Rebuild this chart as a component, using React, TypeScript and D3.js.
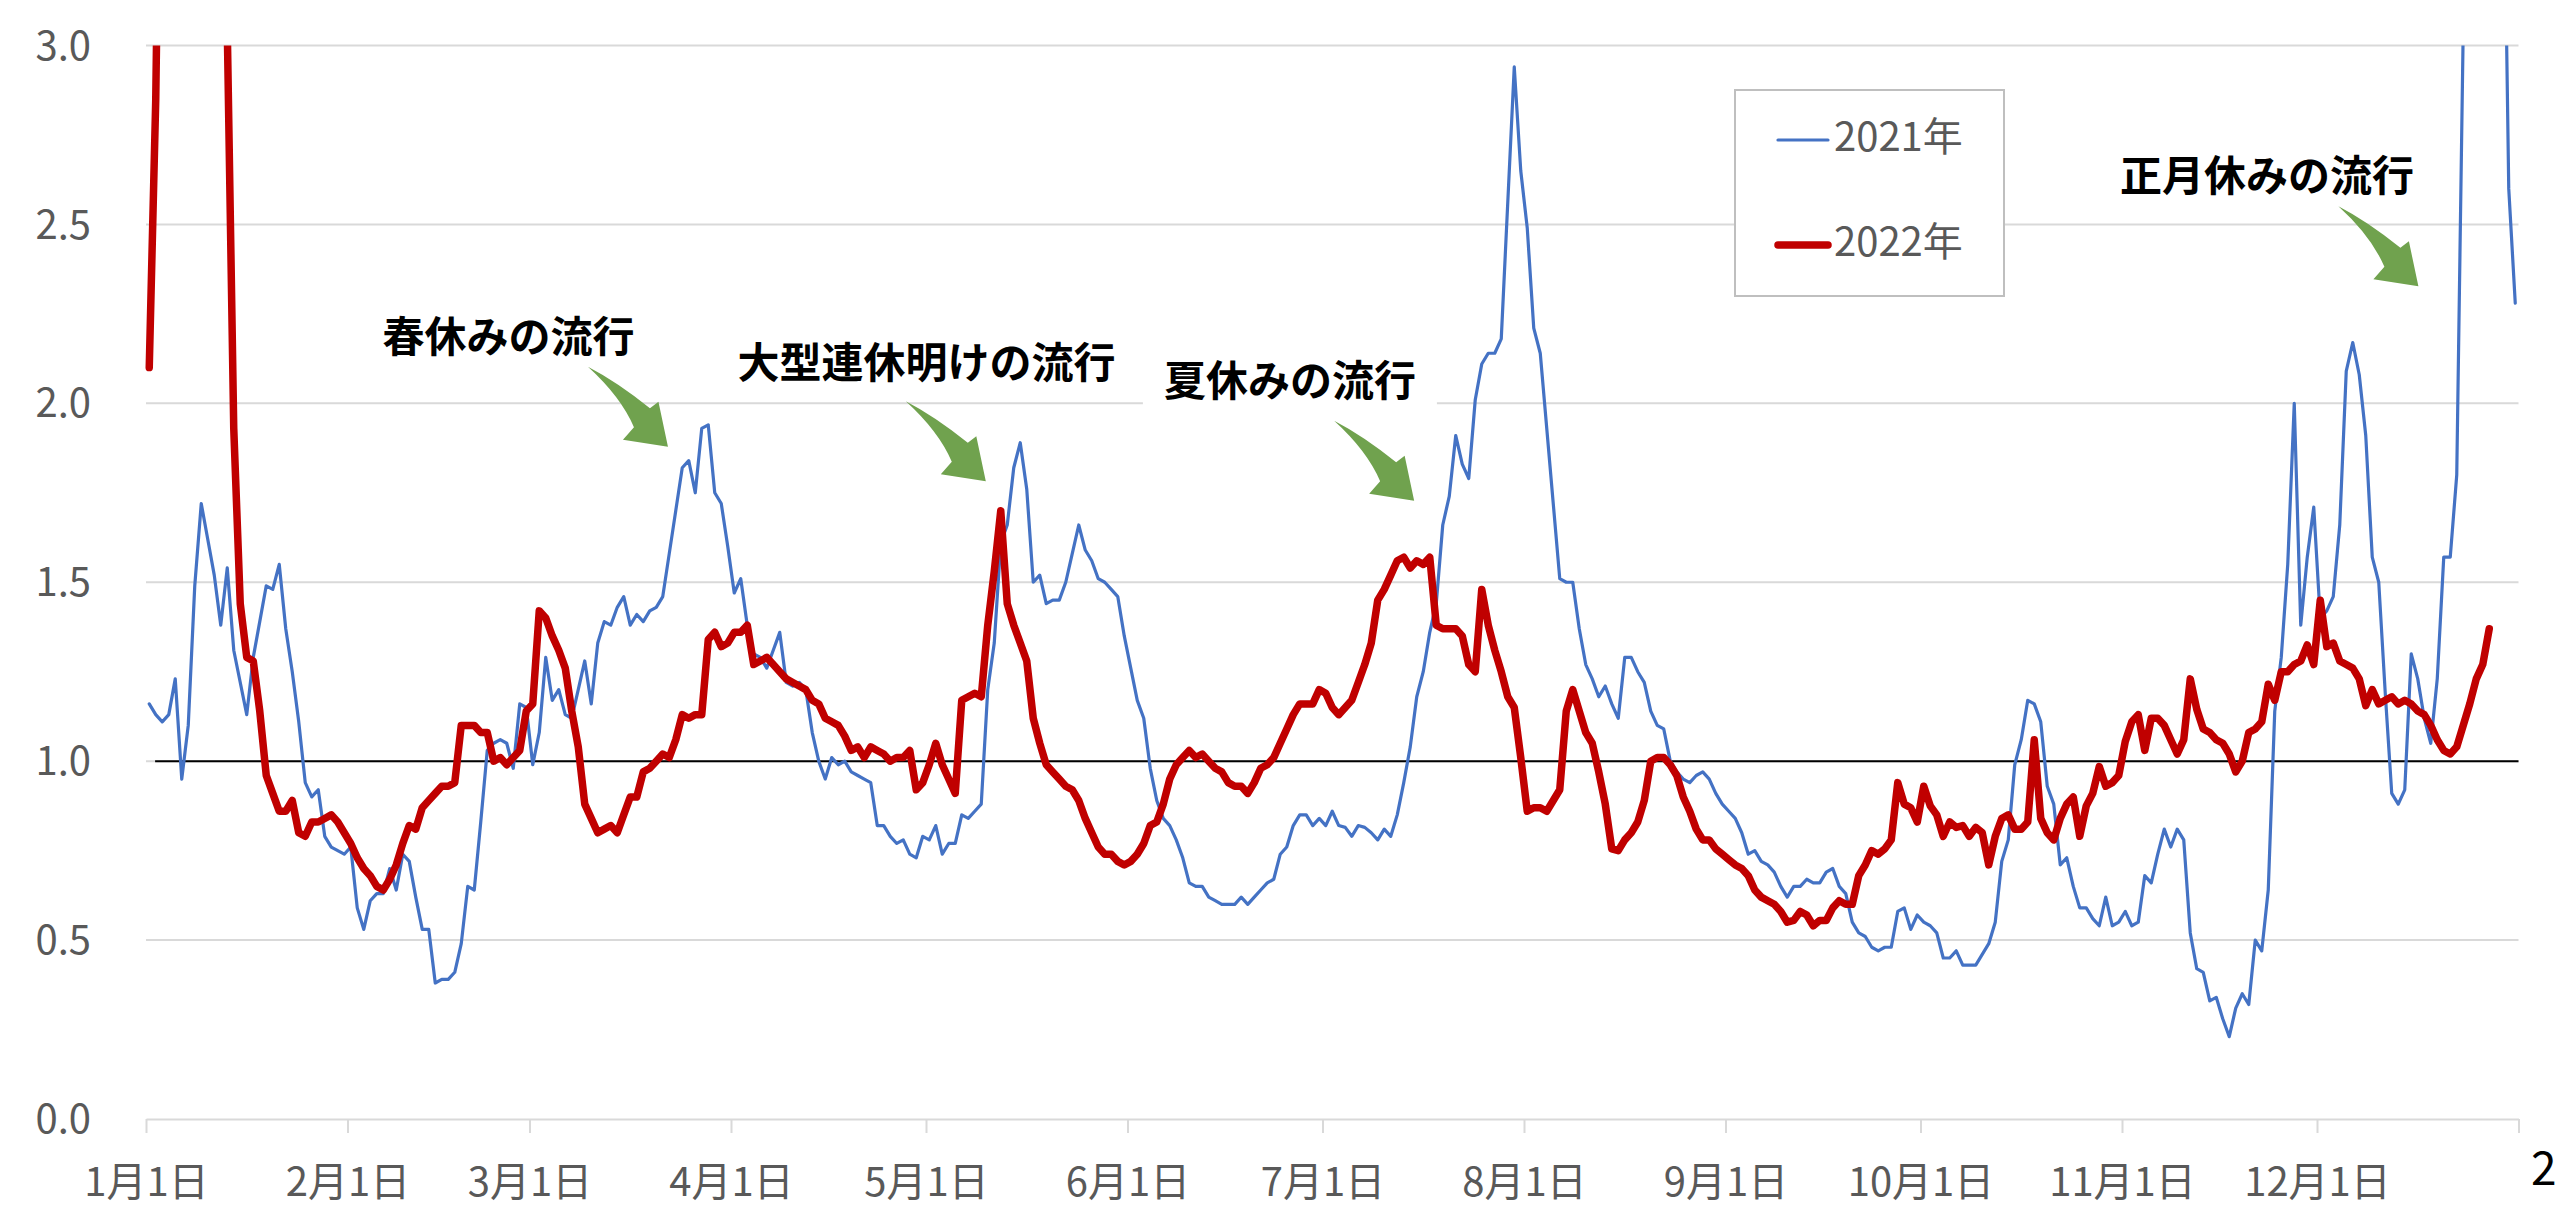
import * as React from 'react';
import { useEffect, useRef } from 'react';
import * as d3 from 'd3';

const WIDTH = 2560;
const HEIGHT = 1211;

const monthLabels = ['1月1日', '2月1日', '3月1日', '4月1日', '5月1日', '6月1日', '7月1日', '8月1日', '9月1日', '10月1日', '11月1日', '12月1日'];
const monthStarts = [0, 31, 59, 90, 120, 151, 181, 212, 243, 273, 304, 334];
const yearLength = 365;
const yTicks = [0, 0.5, 1.0, 1.5, 2.0, 2.5, 3.0];
const seriesNames = ['2021年', '2022年'];

// daily values, 1 Jan → 31 Dec 2021
const values2021 = [
  1.16, 1.13, 1.11, 1.13, 1.23, 0.95, 1.10, 1.49, 1.72, 1.62,
  1.52, 1.38, 1.54, 1.31, 1.22, 1.13, 1.29, 1.39, 1.49, 1.48,
  1.55, 1.37, 1.25, 1.11, 0.94, 0.90, 0.92, 0.79, 0.76, 0.75,
  0.74, 0.76, 0.59, 0.53, 0.61, 0.63, 0.63, 0.70, 0.64, 0.74,
  0.72, 0.62, 0.53, 0.53, 0.38, 0.39, 0.39,
  0.41, 0.49, 0.65, 0.64, 0.83, 1.03, 1.05, 1.06, 1.05, 0.98,
  1.16, 1.15, 0.99, 1.08, 1.29, 1.17, 1.20, 1.13, 1.12, 1.20,
  1.28, 1.16, 1.33, 1.39, 1.38, 1.43, 1.46, 1.38, 1.41, 1.39,
  1.42, 1.43, 1.46, 1.58, 1.70, 1.82, 1.84, 1.75, 1.93, 1.94,
  1.75, 1.72, 1.60, 1.47, 1.51,
  1.38, 1.30, 1.29, 1.26, 1.31, 1.36, 1.22, 1.21, 1.22,
  1.20, 1.08, 1.00, 0.95, 1.01, 0.99, 1.00, 0.97, 0.96, 0.95,
  0.94, 0.82, 0.82, 0.79, 0.77, 0.78, 0.74, 0.73, 0.79, 0.78,
  0.82, 0.74, 0.77, 0.77, 0.85, 0.84, 0.86, 0.88, 1.20, 1.33,
  1.61, 1.66, 1.82, 1.89, 1.76, 1.50, 1.52,
  1.44, 1.45, 1.45, 1.50, 1.58, 1.66, 1.59, 1.56, 1.51, 1.50,
  1.48, 1.46, 1.35, 1.26, 1.17, 1.12, 0.98, 0.89, 0.84, 0.82,
  0.78, 0.73, 0.66, 0.65, 0.65, 0.62, 0.61, 0.60, 0.60, 0.60,
  0.62, 0.60, 0.62, 0.64, 0.66, 0.67, 0.74, 0.76, 0.82, 0.85,
  0.85, 0.82, 0.84, 0.82, 0.86, 0.82,
  0.815, 0.79, 0.82, 0.815, 0.80, 0.78, 0.81, 0.79, 0.85, 0.94,
  1.04, 1.18, 1.25, 1.36, 1.44, 1.66, 1.74, 1.91, 1.83, 1.79,
  2.01, 2.11, 2.14, 2.14, 2.18, 2.56, 2.94, 2.65, 2.49, 2.21,
  2.14, 1.93, 1.72, 1.51, 1.50, 1.50, 1.37, 1.27, 1.23, 1.18,
  1.21, 1.16, 1.12, 1.29, 1.29, 1.25,
  1.22, 1.14, 1.10, 1.09, 1.00, 0.97, 0.95, 0.94, 0.96, 0.97,
  0.95, 0.91, 0.88, 0.86, 0.84, 0.80, 0.74, 0.75, 0.72, 0.71,
  0.69, 0.65, 0.62, 0.65, 0.65, 0.67, 0.66, 0.66, 0.69, 0.70,
  0.65, 0.63, 0.55, 0.52, 0.51, 0.48, 0.47, 0.48, 0.48, 0.58,
  0.59, 0.53, 0.57, 0.55, 0.54, 0.52, 0.45,
  0.45, 0.47, 0.43, 0.43, 0.43, 0.46, 0.49, 0.55, 0.72, 0.78,
  0.99, 1.06, 1.17, 1.16, 1.11, 0.93, 0.88, 0.71, 0.73, 0.65,
  0.59, 0.59, 0.56, 0.54, 0.62, 0.54, 0.55, 0.58, 0.54, 0.55,
  0.68, 0.66, 0.74, 0.81, 0.76, 0.81, 0.78, 0.52, 0.42, 0.41,
  0.33, 0.34, 0.28, 0.23, 0.31, 0.35,
  0.32, 0.50, 0.47, 0.64, 1.14, 1.29, 1.55, 2.00, 1.38, 1.57,
  1.71, 1.40, 1.42, 1.46, 1.66, 2.09, 2.17, 2.08, 1.91, 1.57,
  1.50, 1.19, 0.91, 0.88, 0.92, 1.30, 1.23, 1.12, 1.05, 1.23,
  1.57, 1.57, 1.80, 3.05, 3.5, 4.0, 4.3, 4.4, 4.2, 3.85,
  2.60, 2.28,
];

// daily values, 1 Jan → 27 Dec 2022
const values2022 = [
  2.10, 2.85, 4.2, 5.0, 5.5, 5.8, 5.6, 5.3, 5.0, 4.6,
  4.3, 4.0, 3.05, 1.93, 1.44, 1.29, 1.28, 1.14, 0.96, 0.91,
  0.86, 0.86, 0.89, 0.80, 0.79, 0.83, 0.83, 0.84, 0.85, 0.83,
  0.80, 0.77, 0.73, 0.70, 0.68, 0.65, 0.64, 0.67, 0.71, 0.77,
  0.82, 0.81, 0.87, 0.89, 0.91, 0.93, 0.93,
  0.94, 1.10, 1.10, 1.10, 1.08, 1.08, 1.00, 1.01, 0.99, 1.01,
  1.03, 1.14, 1.16, 1.42, 1.40, 1.35, 1.31, 1.26, 1.14, 1.04,
  0.88, 0.84, 0.80, 0.81, 0.82, 0.80, 0.85, 0.90, 0.90, 0.97,
  0.98, 1.00, 1.02, 1.01, 1.06, 1.13, 1.12, 1.13, 1.13, 1.34,
  1.36, 1.32, 1.33, 1.36, 1.36,
  1.38, 1.27, 1.28, 1.29, 1.27, 1.25, 1.23, 1.22, 1.21,
  1.20, 1.17, 1.16, 1.12, 1.11, 1.10, 1.07, 1.03, 1.04, 1.01,
  1.04, 1.03, 1.02, 1.00, 1.01, 1.01, 1.03, 0.92, 0.94, 0.99,
  1.05, 0.99, 0.95, 0.91, 1.17, 1.18, 1.19, 1.18, 1.38, 1.53,
  1.70, 1.44, 1.38, 1.33, 1.28, 1.12, 1.05,
  0.99, 0.97, 0.95, 0.93, 0.92, 0.89, 0.84, 0.80, 0.76, 0.74,
  0.74, 0.72, 0.71, 0.72, 0.74, 0.77, 0.82, 0.83, 0.88, 0.95,
  0.99, 1.01, 1.03, 1.01, 1.02, 1.00, 0.98, 0.97, 0.94, 0.93,
  0.93, 0.91, 0.94, 0.98, 0.99, 1.01, 1.05, 1.09, 1.13, 1.16,
  1.16, 1.16, 1.20, 1.19, 1.15, 1.13,
  1.15, 1.17, 1.22, 1.27, 1.33, 1.45, 1.48, 1.52, 1.56, 1.57,
  1.54, 1.56, 1.55, 1.57, 1.38, 1.37, 1.37, 1.37, 1.35, 1.27,
  1.25, 1.48, 1.38, 1.31, 1.25, 1.18, 1.15, 1.01, 0.86, 0.87,
  0.87, 0.86, 0.89, 0.92, 1.14, 1.20, 1.14, 1.08, 1.05, 0.97,
  0.88, 0.755, 0.75, 0.78, 0.80, 0.83,
  0.89, 1.00, 1.01, 1.01, 0.99, 0.96, 0.90, 0.86, 0.81, 0.78,
  0.78, 0.755, 0.74, 0.725, 0.71, 0.70, 0.68, 0.64, 0.62, 0.61,
  0.60, 0.58, 0.55, 0.555, 0.58, 0.57, 0.54, 0.555, 0.555, 0.59,
  0.61, 0.60, 0.60, 0.68, 0.71, 0.75, 0.74, 0.755, 0.78, 0.94,
  0.88, 0.87, 0.83, 0.93, 0.875, 0.85, 0.79,
  0.83, 0.815, 0.82, 0.79, 0.815, 0.80, 0.71, 0.79, 0.84, 0.85,
  0.81, 0.81, 0.83, 1.06, 0.84, 0.80, 0.78, 0.84, 0.88, 0.90,
  0.79, 0.875, 0.91, 0.985, 0.93, 0.94, 0.96, 1.055, 1.11, 1.13,
  1.03, 1.12, 1.12, 1.10, 1.06, 1.02, 1.06, 1.23, 1.145, 1.09,
  1.08, 1.06, 1.05, 1.02, 0.97, 1.00,
  1.08, 1.09, 1.11, 1.215, 1.17, 1.25, 1.25, 1.27, 1.28, 1.325,
  1.27, 1.45, 1.32, 1.33, 1.28, 1.27, 1.26, 1.23, 1.155, 1.20,
  1.16, 1.17, 1.18, 1.16, 1.17, 1.16, 1.14, 1.13, 1.10, 1.06,
  1.03, 1.02, 1.04, 1.10, 1.16, 1.23, 1.27, 1.37,
];

const noteTexts = ['春休みの流行', '大型連休明けの流行', '夏休みの流行', '正月休みの流行'];

// [day, value] anchors: text start (left, middle) and arrow tip
const NOTE_TEXT_AT = [[36.4, 2.186], [91.0, 2.113], [156.6, 2.063], [303.7, 2.636]];
const NOTE_ARROW_AT = [[80.3, 1.879], [129.2, 1.782], [195.1, 1.728], [349.6, 2.327]];

const FONT = '"Noto Sans CJK JP", "Noto Sans", sans-serif';
const GRID = '#d9d9d9';
const LABEL = '#595959';
const BLUE = '#4472c4';
const RED = '#c00000';
const GREEN = '#70a24e';

// arrow shape, relative to its tip
const ARROW_PATH =
  'M-80,-80 Q-51,-65 -18,-38.5 L-9.5,-45 L0,0 L-45,-7 L-34,-19.5 Q-47,-50 -80,-80 Z';

export default function App() {
  const ref = useRef<SVGSVGElement>(null);

  useEffect(() => {
    const svg = d3.select(ref.current);
    svg.selectAll('*').remove();

    const x = d3.scaleLinear().domain([0, yearLength]).range([146, 2518.5]);
    const y = d3.scaleLinear().domain([0, 3]).range([1119, 45.5]);

    // horizontal grid
    svg
      .append('g')
      .selectAll('line')
      .data(yTicks.filter(d => d > 0))
      .join('line')
      .attr('x1', x(0))
      .attr('x2', x(yearLength))
      .attr('y1', d => y(d))
      .attr('y2', d => y(d))
      .attr('stroke', GRID)
      .attr('stroke-width', 2);

    // y axis labels
    const yAxis = svg
      .append('g')
      .attr('transform', `translate(${x(0)},0)`)
      .call(d3.axisLeft(y).tickValues(yTicks).tickSize(0).tickPadding(55).tickFormat(d3.format('.1f')));
    yAxis.select('.domain').remove();
    yAxis
      .selectAll('text')
      .attr('font-family', FONT)
      .attr('font-size', 40)
      .attr('fill', LABEL)
      .attr('dy', '0.34em');

    // x axis
    const xAxis = svg
      .append('g')
      .attr('transform', `translate(0,${y(0)})`)
      .call(
        d3
          .axisBottom(x)
          .tickValues([...monthStarts, yearLength])
          .tickSize(14)
          .tickSizeOuter(0)
          .tickFormat((_d, i) => monthLabels[i] ?? ''),
      );
    xAxis.select('.domain').attr('stroke', GRID).attr('stroke-width', 2);
    xAxis.selectAll('.tick line').attr('stroke', GRID).attr('stroke-width', 2);
    xAxis
      .selectAll('.tick text')
      .attr('font-family', FONT)
      .attr('font-size', 40)
      .attr('fill', LABEL)
      .attr('y', 63)
      .attr('dy', '0.34em');

    // clipped stray label at the right edge
    svg
      .append('text')
      .attr('x', 2531)
      .attr('y', 1168)
      .attr('dy', '0.36em')
      .attr('font-family', FONT)
      .attr('font-size', 46)
      .attr('fill', '#000')
      .text('2');

    // plot clip
    svg
      .append('defs')
      .append('clipPath')
      .attr('id', 'plotClip')
      .append('rect')
      .attr('x', x(0) - 10)
      .attr('y', y(3))
      .attr('width', x(yearLength) - x(0) + 20)
      .attr('height', y(0) - y(3));

    // reference line at 1.0
    svg
      .append('line')
      .attr('x1', x(1.4))
      .attr('x2', x(yearLength))
      .attr('y1', y(1))
      .attr('y2', y(1))
      .attr('stroke', '#000')
      .attr('stroke-width', 2);

    const line = d3
      .line<number>()
      .x((_d, i) => x(i + 0.5))
      .y(d => y(d));

    const plot = svg.append('g').attr('clip-path', 'url(#plotClip)');
    plot
      .append('path')
      .attr('d', line(values2021))
      .attr('fill', 'none')
      .attr('stroke', BLUE)
      .attr('stroke-width', 3.2)
      .attr('stroke-linejoin', 'round')
      .attr('stroke-linecap', 'round');
    plot
      .append('path')
      .attr('d', line(values2022))
      .attr('fill', 'none')
      .attr('stroke', RED)
      .attr('stroke-width', 7.5)
      .attr('stroke-linejoin', 'round')
      .attr('stroke-linecap', 'round');

    // legend
    const legend = svg.append('g');
    legend
      .append('rect')
      .attr('x', 1735)
      .attr('y', 90)
      .attr('width', 269)
      .attr('height', 206)
      .attr('fill', '#fff')
      .attr('stroke', '#bfbfbf')
      .attr('stroke-width', 2);
    const legendRows = [
      { name: seriesNames[0], color: BLUE, width: 3.2, cy: 140 },
      { name: seriesNames[1], color: RED, width: 7.5, cy: 245 },
    ];
    legendRows.forEach(r => {
      legend
        .append('line')
        .attr('x1', 1778)
        .attr('x2', 1828)
        .attr('y1', r.cy)
        .attr('y2', r.cy)
        .attr('stroke', r.color)
        .attr('stroke-width', r.width)
        .attr('stroke-linecap', 'round');
      legend
        .append('text')
        .attr('x', 1834)
        .attr('y', r.cy - 3)
        .attr('dy', '0.34em')
        .attr('font-family', FONT)
        .attr('font-size', 40)
        .attr('fill', LABEL)
        .text(r.name);
    });

    // annotations
    const notes = svg.append('g');
    noteTexts.forEach((t, i) => {
      const [td, tv] = NOTE_TEXT_AT[i];
      const [ad, av] = NOTE_ARROW_AT[i];
      if (i === 2) {
        notes
          .append('rect')
          .attr('x', x(td) - 21)
          .attr('y', y(tv) - 30)
          .attr('width', 294)
          .attr('height', 58)
          .attr('fill', '#fff');
      }
      notes
        .append('text')
        .attr('x', x(td))
        .attr('y', y(tv))
        .attr('dy', '0.36em')
        .attr('font-family', FONT)
        .attr('font-weight', 700)
        .attr('font-size', 42)
        .attr('fill', '#000')
        .text(t);
      notes
        .append('path')
        .attr('transform', `translate(${x(ad)},${y(av)})`)
        .attr('d', ARROW_PATH)
        .attr('fill', GREEN);
    });
  }, []);

  return (
    <svg
      ref={ref}
      width={WIDTH}
      height={HEIGHT}
      style={{ position: 'absolute', left: 0, top: 0, display: 'block', background: '#fff' }}
    />
  );
}
